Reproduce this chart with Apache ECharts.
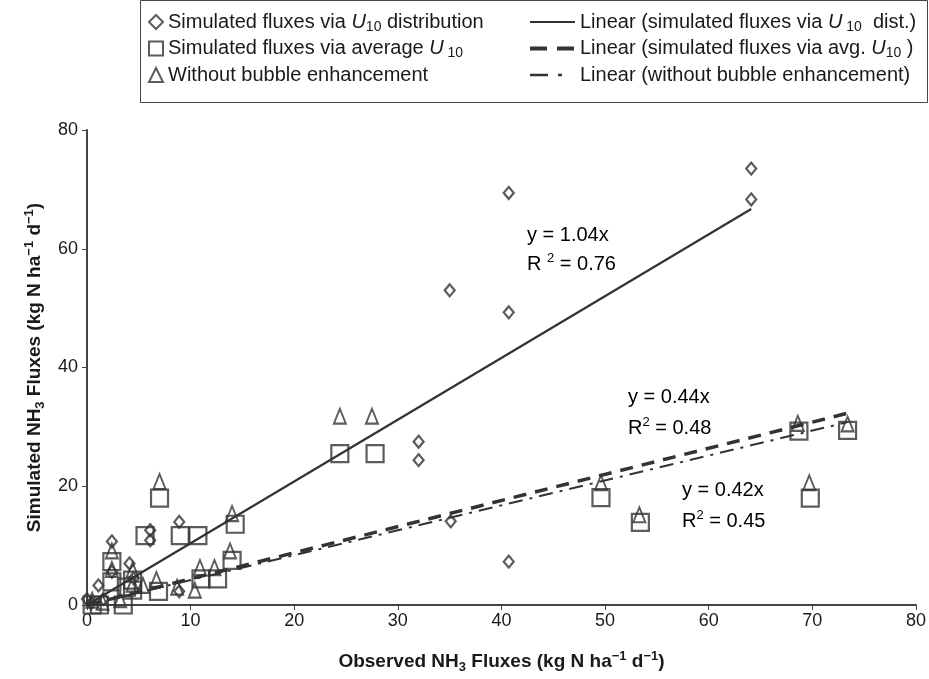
<!DOCTYPE html>
<html>
<head>
<meta charset="utf-8">
<script src="https://cdn.jsdelivr.net/npm/echarts@6/dist/echarts.min.js"></script>
<style>
html,body{margin:0;padding:0;background:#fff;}
#c{width:929px;height:679px;}
</style>
</head>
<body>
<div id="c"></div>
<script>
// ---- data ----
var xTicks = [0, 10, 20, 30, 40, 50, 60, 70, 80];
var yTicks = [0, 20, 40, 60, 80];

// Simulated fluxes via U10 distribution (diamonds)
var distX = [0.0, 0.4, 1.1, 1.6, 2.4, 2.4, 4.1, 4.5, 6.1, 6.1, 8.9, 8.9, 32.0, 32.0, 35.0, 35.1, 40.7, 40.7, 40.7, 64.1, 64.1];
var distY = [1.0, 0.3, 3.3, 1.0, 10.7, 5.6, 7.0, 4.5, 12.6, 10.9, 14.0, 2.3, 27.5, 24.4, 53.0, 14.1, 69.4, 49.3, 7.3, 73.5, 68.3];

// Simulated fluxes via average U10 (squares)
var avgX = [0.5, 1.2, 1.8, 3.5, 2.4, 2.4, 4.4, 4.4, 3.8, 5.6, 6.9, 7.0, 9.0, 10.7, 11.0, 12.6, 14.0, 14.3, 24.4, 27.8, 49.6, 53.4, 68.7, 69.8, 73.4];
var avgY = [0.0, 0.0, -0.3, 0.0, 7.3, 3.9, 4.2, 2.5, 3.0, 11.7, 2.3, 18.0, 11.7, 11.7, 4.4, 4.4, 7.5, 13.6, 25.5, 25.5, 18.1, 13.9, 29.3, 18.0, 29.4];

// Without bubble enhancement (triangles)
var noBubX = [0.5, 1.5, 3.2, 2.4, 2.4, 4.4, 4.4, 6.7, 5.4, 7.0, 8.7, 10.4, 10.9, 12.3, 13.8, 14.0, 24.4, 27.5, 49.6, 53.3, 68.6, 69.7, 73.4];
var noBubY = [0.8, 0.5, 0.9, 9.1, 6.0, 5.9, 3.5, 4.3, 3.3, 20.8, 3.0, 2.5, 6.3, 6.3, 9.1, 15.4, 31.8, 31.8, 20.6, 15.2, 30.6, 20.6, 30.5];

// Linear fit end points
var distFitX = [0, 64.1], distFitY = [0, 66.7];
var avgFitX = [0, 73.4], avgFitY = [0, 32.3];
var noBubFitX = [0, 73.4], noBubFitY = [0, 30.8];

var seriesNames = [
  'Simulated fluxes via U10 distribution',
  'Simulated fluxes via average U10',
  'Without bubble enhancement',
  'Linear (simulated fluxes via U10 dist.)',
  'Linear (simulated fluxes via avg. U10 )',
  'Linear (without bubble enhancement)'
];
var legendRich = {};
legendRich[seriesNames[0]] = '{t|Simulated fluxes via }{i|U}{s|10}{t| distribution}';
legendRich[seriesNames[1]] = '{t|Simulated fluxes via average }{i|U}{s| 10}';
legendRich[seriesNames[2]] = '{t|Without bubble enhancement}';
legendRich[seriesNames[3]] = '{t|Linear (simulated fluxes via }{i|U}{s| 10}{t|  dist.)}';
legendRich[seriesNames[4]] = '{t|Linear (simulated fluxes via avg. }{i|U}{s|10}{t| )}';
legendRich[seriesNames[5]] = '{t|Linear (without bubble enhancement)}';

function pairs(xs, ys) { return xs.map(function (x, i) { return [x, ys[i]]; }); }

var FONT = '"Liberation Sans", Arial, Helvetica, sans-serif';
var INK = '#333';
var TXT = '#1a1a1a';

var richLegend = {
  t: {fontFamily: FONT, fontSize: 20, color: TXT, lineHeight: 24},
  i: {fontFamily: FONT, fontSize: 20, fontStyle: 'italic', color: TXT, lineHeight: 24},
  s: {fontFamily: FONT, fontSize: 14, color: TXT, lineHeight: 14, verticalAlign: 'bottom'}
};
var richTitle = {
  b: {fontFamily: FONT, fontSize: 19, fontWeight: 'bold', color: TXT, lineHeight: 24},
  bs: {fontFamily: FONT, fontSize: 13, fontWeight: 'bold', color: TXT, lineHeight: 13, verticalAlign: 'bottom'},
  bp: {fontFamily: FONT, fontSize: 13, fontWeight: 'bold', color: TXT, lineHeight: 13, verticalAlign: 'top'}
};
var richAnn = {
  t: {fontFamily: FONT, fontSize: 20, color: TXT, lineHeight: 24},
  p: {fontFamily: FONT, fontSize: 13, color: TXT, lineHeight: 13, verticalAlign: 'top'}
};

var hollow = function (w) { return {color: 'rgba(255,255,255,0)', borderColor: INK, borderWidth: w}; };
var lineLegendItem = function (n, ls) { return {name: n, itemStyle: {opacity: 0}, lineStyle: ls}; };

var chart = echarts.init(document.getElementById('c'), null, {renderer: 'canvas'});
var option = {
  animation: false,
  backgroundColor: '#fff',
  grid: {left: 87, right: 10, top: 130, bottom: 67, containLabel: false},
  xAxis: {
    type: 'value', min: xTicks[0], max: xTicks[xTicks.length - 1], interval: 10,
    splitLine: {show: false},
    axisLine: {lineStyle: {color: '#444', width: 2}},
    axisTick: {show: true, length: 5, lineStyle: {color: '#444', width: 1}},
    axisLabel: {fontFamily: FONT, fontSize: 18, color: TXT, margin: 7},
    name: '{b|Observed NH}{bs|3}{b| Fluxes (kg N ha}{bp|−1}{b| d}{bp|−1}{b|)}',
    nameLocation: 'middle', nameGap: 45,
    nameTextStyle: {rich: richTitle}
  },
  yAxis: {
    type: 'value', min: yTicks[0], max: yTicks[yTicks.length - 1], interval: 20,
    splitLine: {show: false},
    axisLine: {show: true, lineStyle: {color: '#444', width: 2}},
    axisTick: {show: true, length: 5, lineStyle: {color: '#444', width: 1}},
    axisLabel: {fontFamily: FONT, fontSize: 18, color: TXT, margin: 9},
    name: '{b|Simulated NH}{bs|3}{b| Fluxes (kg N ha}{bp|−1}{b| d}{bp|−1}{b|)}',
    nameLocation: 'middle', nameGap: 35, nameRotate: 90,
    nameTextStyle: {rich: richTitle}
  },
  legend: [
    {
      left: 143, top: 7, orient: 'vertical', itemGap: 4.5, itemWidth: 14, itemHeight: 14,
      data: [
        {name: seriesNames[0], icon: 'diamond', itemStyle: hollow(2)},
        {name: seriesNames[1], icon: 'rect', itemStyle: hollow(2)},
        {name: seriesNames[2], icon: 'triangle', itemStyle: hollow(2)}
      ],
      formatter: function (n) { return legendRich[n]; },
      textStyle: {rich: richLegend},
      selectedMode: false
    },
    {
      left: 523, top: 7, orient: 'vertical', itemGap: 4.5, itemWidth: 45, itemHeight: 14,
      data: [
        lineLegendItem(seriesNames[3], {color: INK, width: 2.2, type: 'solid'}),
        lineLegendItem(seriesNames[4], {color: INK, width: 4, type: [17, 10]}),
        lineLegendItem(seriesNames[5], {color: INK, width: 2.5, type: [18, 10, 4, 20]})
      ],
      formatter: function (n) { return legendRich[n]; },
      textStyle: {rich: richLegend},
      selectedMode: false
    }
  ],
  graphic: [
    {type: 'rect', shape: {x: 140.5, y: 0.5, width: 787, height: 102}, style: {fill: 'none', stroke: '#444', lineWidth: 1}, silent: true, z: -1},
    {type: 'text', left: 527, top: 225, style: {rich: richAnn, text: '{t|y = 1.04x}'}},
    {type: 'text', left: 527, top: 252, style: {rich: richAnn, text: '{t|R }{p|2}{t| = 0.76}'}},
    {type: 'text', left: 628, top: 387, style: {rich: richAnn, text: '{t|y = 0.44x}'}},
    {type: 'text', left: 628, top: 416, style: {rich: richAnn, text: '{t|R}{p|2}{t| = 0.48}'}},
    {type: 'text', left: 682, top: 480, style: {rich: richAnn, text: '{t|y = 0.42x}'}},
    {type: 'text', left: 682, top: 509, style: {rich: richAnn, text: '{t|R}{p|2}{t| = 0.45}'}}
  ],
  series: [
    {name: seriesNames[0], type: 'scatter', symbol: 'diamond', symbolSize: [10, 12], itemStyle: hollow(2.2), data: pairs(distX, distY), z: 3},
    {name: seriesNames[1], type: 'scatter', symbol: 'rect', symbolSize: 17, itemStyle: hollow(2.2), data: pairs(avgX, avgY), z: 2},
    {name: seriesNames[2], type: 'scatter', symbol: 'triangle', symbolSize: [12, 15], itemStyle: hollow(2), data: pairs(noBubX, noBubY), z: 4},
    {name: seriesNames[3], type: 'line', symbol: 'none', itemStyle: {color: INK}, data: pairs(distFitX, distFitY), lineStyle: {color: INK, width: 2.2, type: 'solid'}, z: 5},
    {name: seriesNames[4], type: 'line', symbol: 'none', itemStyle: {color: INK}, data: pairs(avgFitX, avgFitY), lineStyle: {color: INK, width: 3.5, type: [13, 9]}, z: 5},
    {name: seriesNames[5], type: 'line', symbol: 'none', itemStyle: {color: INK}, data: pairs(noBubFitX, noBubFitY), lineStyle: {color: INK, width: 2, type: [14, 7, 3, 7]}, z: 5}
  ]
};
chart.setOption(option);
</script>
</body>
</html>
